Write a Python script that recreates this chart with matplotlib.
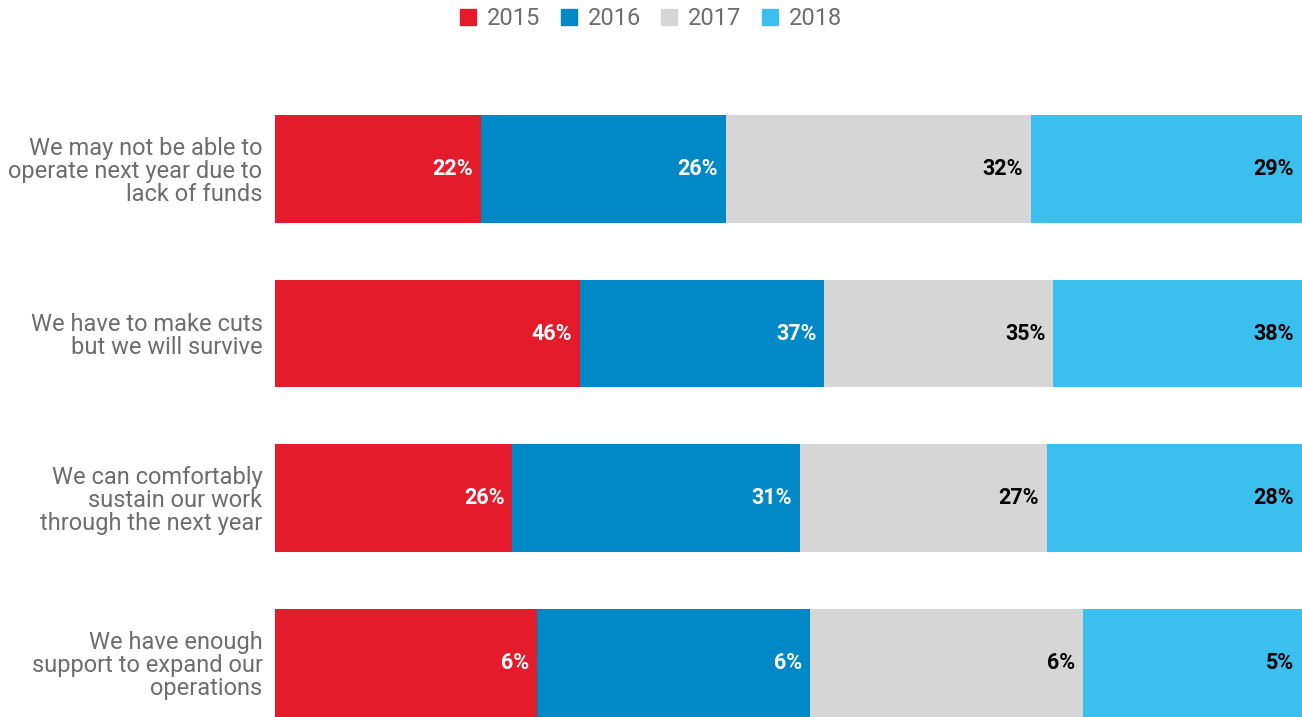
import numpy as np
import matplotlib
matplotlib.use("Agg")
import matplotlib.pyplot as plt
from matplotlib.lines import Line2D

plt.rcParams["font.family"] = ["Roboto", "DejaVu Sans"]

categories = [
    "We may not be able to\noperate next year due to\nlack of funds",
    "We have to make cuts\nbut we will survive",
    "We can comfortably\nsustain our work\nthrough the next year",
    "We have enough\nsupport to expand our\noperations",
]
years = ["2015", "2016", "2017", "2018"]
v2015 = [21.8, 46.4, 25.9, 5.75]
v2016 = [26.0, 37.1, 31.3, 6.0]
v2017 = [32.4, 34.8, 27.0, 6.0]
v2018 = [28.7, 37.8, 27.8, 4.8]

colors = ["#e31b2b", "#0088c7", "#d6d6d6", "#3bbfef"]
label_colors = ["white", "white", "black", "black"]


def main():
    data = np.array([v2015, v2016, v2017, v2018])
    shares = data / data.sum(axis=0)

    fig = plt.figure(figsize=(13.02, 7.17), dpi=100)
    ax = fig.add_axes([275 / 1302, 0, 1 - 275 / 1302, 1])

    y = np.arange(len(categories))
    left = np.zeros(len(categories))
    for i in range(len(years)):
        ax.barh(y, shares[i], left=left, height=0.655, color=colors[i])
        ends = left + shares[i]
        for j in range(len(categories)):
            ax.annotate(f"{round(data[i, j])}%", xy=(ends[j], y[j]),
                        xytext=(-8, 0), textcoords="offset pixels",
                        ha="right", va="center", fontsize=15.5,
                        fontweight="bold", color=label_colors[i])
        left = ends

    ax.set_xlim(0, 1)
    ax.set_ylim(3 + 0.655 / 2, -169 / 165)
    ax.set_xticks([])
    ax.set_yticks(y)
    ax.set_yticklabels(categories, fontsize=17, color="#6d6d6d",
                       linespacing=1.0)
    ax.tick_params(axis="y", length=0, pad=9)
    for s in ax.spines.values():
        s.set_visible(False)

    handles = [Line2D([], [], marker="s", linestyle="", markersize=11.5,
                      color=c) for c in colors]
    fig.legend(handles, years, loc="upper center", bbox_to_anchor=(0.5, 1.02),
               ncol=4, frameon=False, fontsize=17, labelcolor="#6d6d6d",
               handlelength=0.7, handletextpad=0.45, columnspacing=0.85)

    fig.savefig("out.png", dpi=100)


if __name__ == "__main__":
    main()
